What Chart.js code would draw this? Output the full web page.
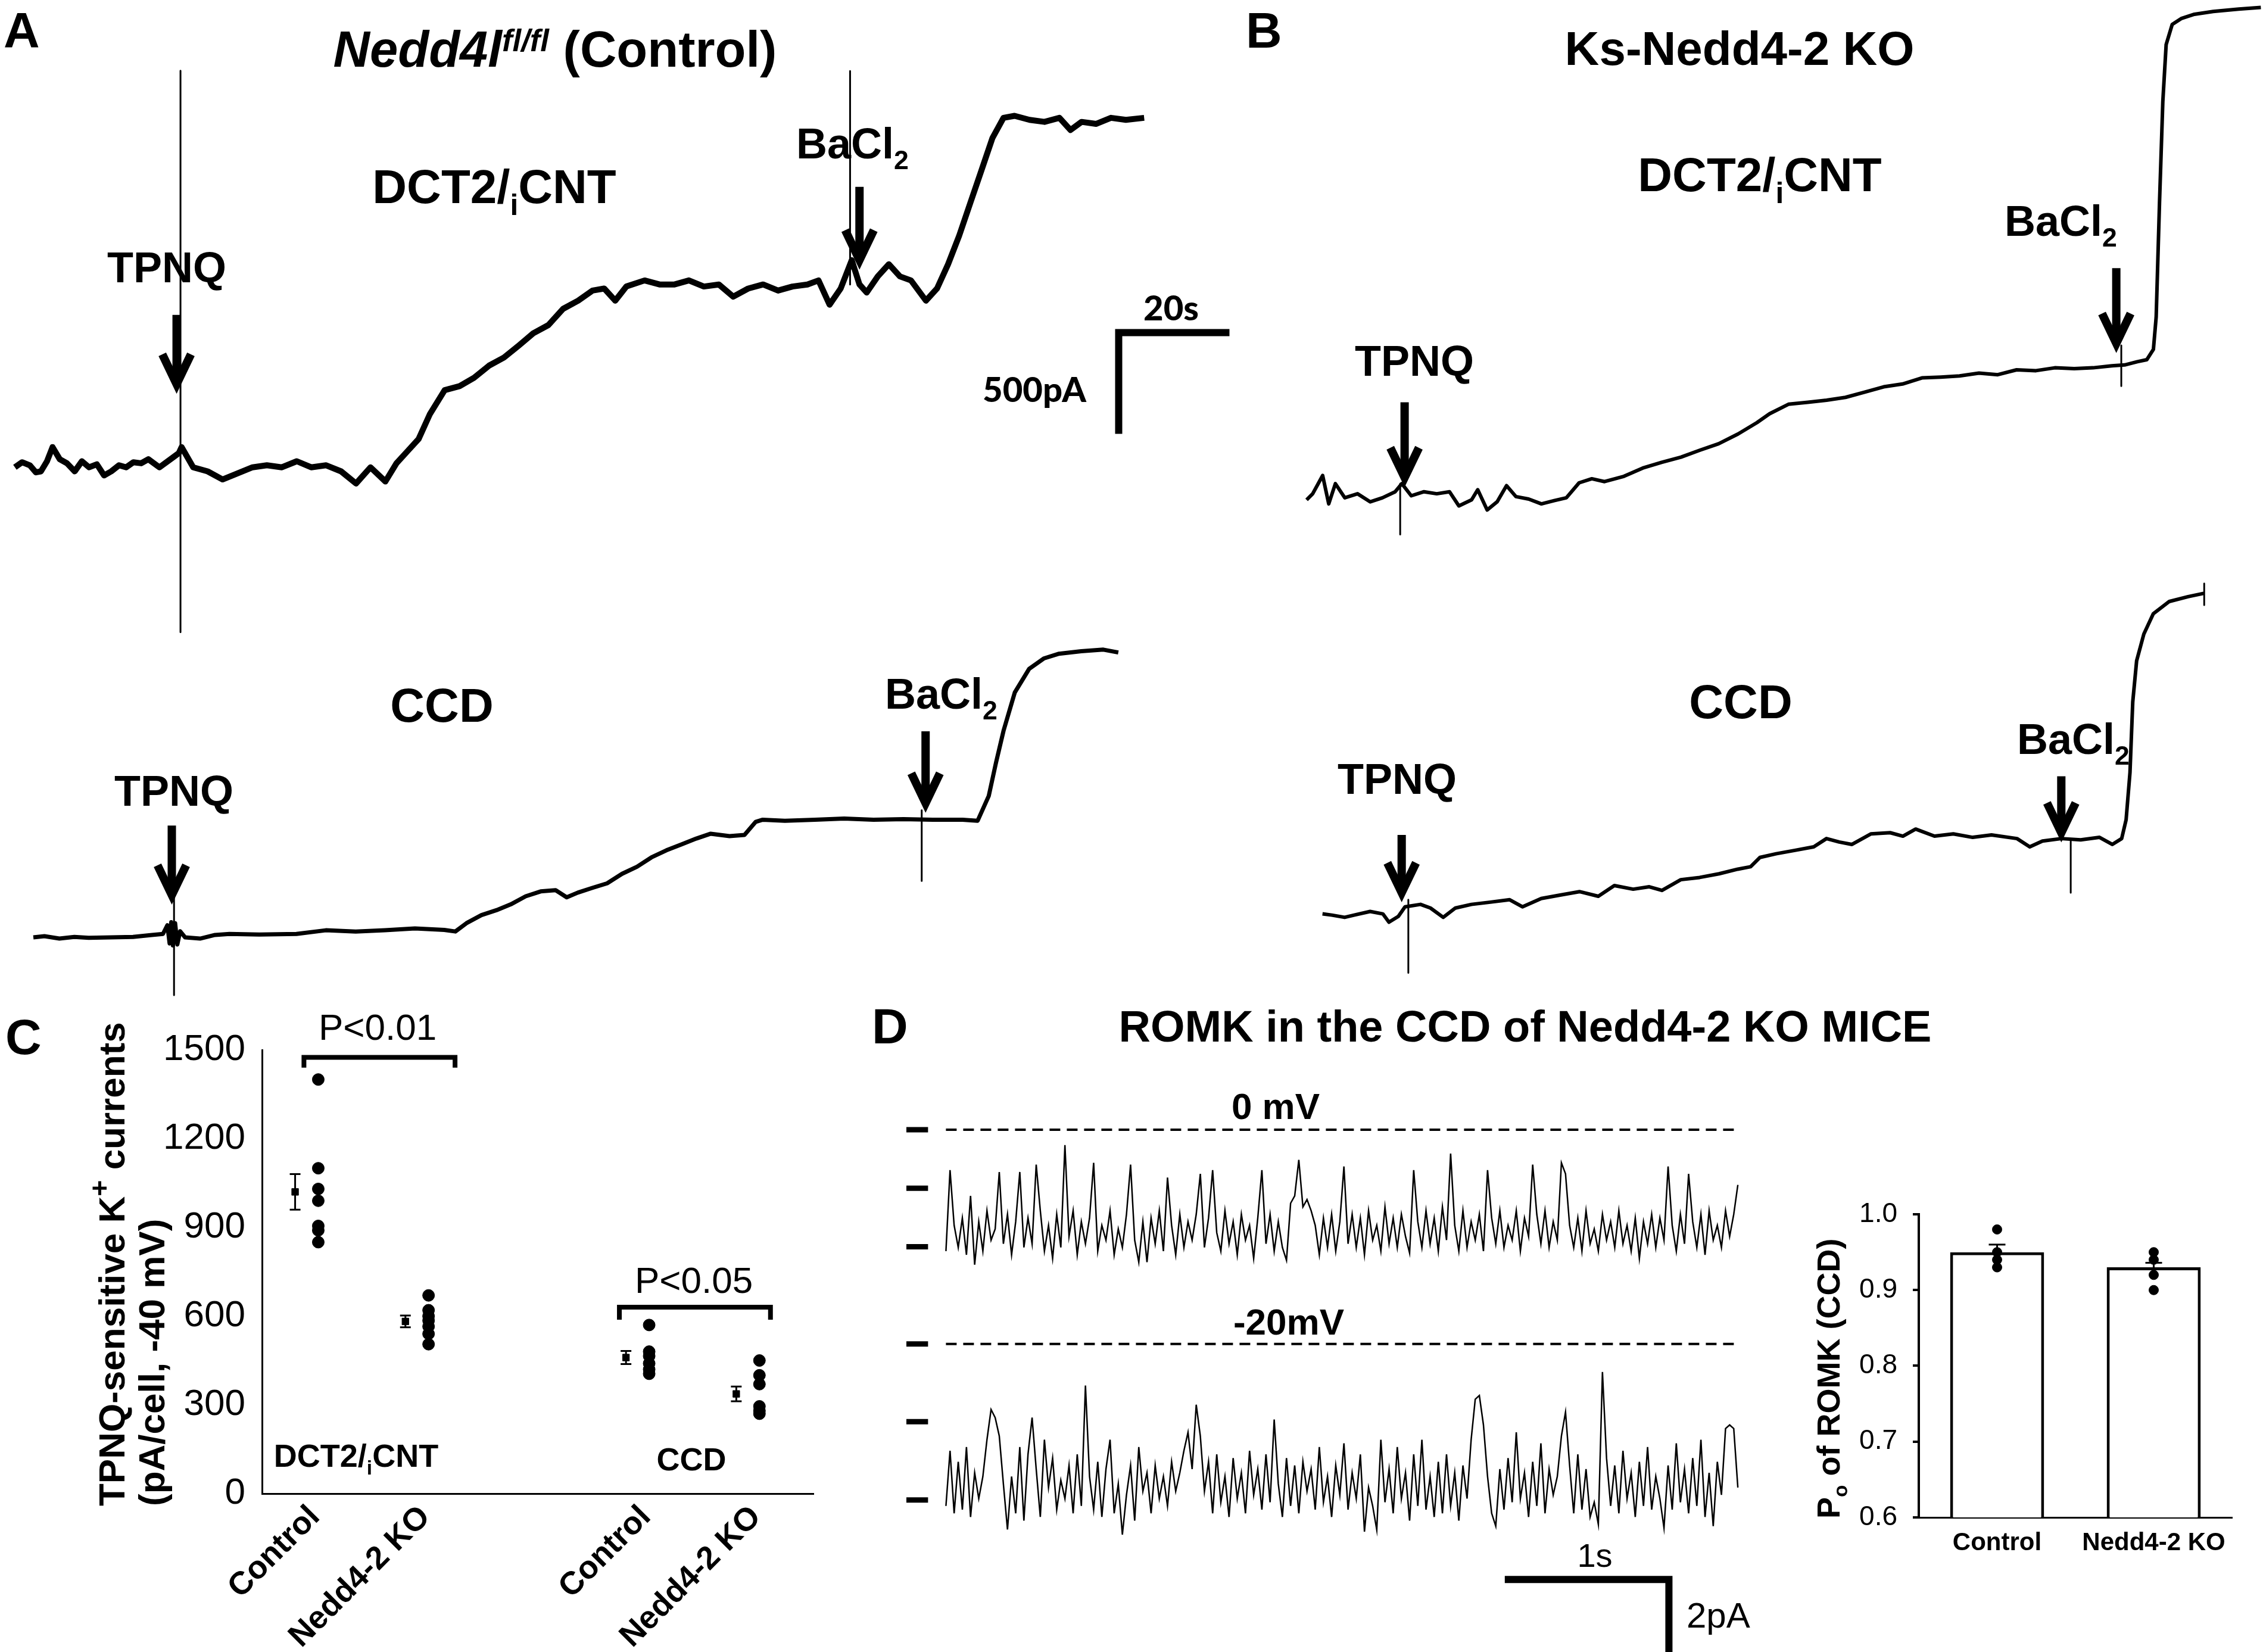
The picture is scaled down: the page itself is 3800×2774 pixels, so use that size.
<!DOCTYPE html>
<html>
<head>
<meta charset="utf-8">
<script src="https://cdn.jsdelivr.net/npm/chart.js@4.4.1/dist/chart.umd.min.js"></script>
<style>
  html, body { margin: 0; padding: 0; background: #fff; }
  #page { position: relative; width: 3800px; height: 2774px; overflow: hidden; background: #fff; color: #000; }
  #page canvas { position: absolute; }
  .lbl { position: absolute; white-space: nowrap; line-height: 1; }
  .lbl sub, .lbl sup, .rot sub, .rot sup { font-size: 0.62em; line-height: 0; }
  .lbl sub, .rot sub { vertical-align: -0.4em; }
  .lbl sup { vertical-align: 0.5em; }
  .rot sup { font-size: 0.75em; vertical-align: 0.55em; }
  .rot { position: absolute; transform-origin: 0 0; transform: rotate(-90deg); white-space: nowrap; font-weight: bold;
         font-family: "Liberation Sans", Arial, sans-serif; }
</style>
</head>
<body>
<div id="page"></div>
<script>
// ---------- data: whole-cell traces, [time s, current pA] ----------
const dctControl = [[0,0],[1.3,25],[2.7,10],[3.8,-25],[4.7,-20],[5.8,30],[6.8,100],[8.1,40],[9.4,20],[10.8,-20],
  [12.1,30],[13.4,0],[14.8,15],[16.1,-40],[17.4,-20],[18.8,10],[20.1,0],[21.4,25],[22.8,20],[24.1,40],
  [26.1,0],[28.1,40],[29.6,70],[30.1,100],[32.2,0],[34.8,-20],[37.5,-60],[40.2,-30],[42.9,0],[45.5,10],
  [48.2,0],[50.9,30],[53.5,0],[56.2,10],[58.9,-20],[61.6,-80],[64.2,0],[66.9,-70],[68.9,20],[70.9,80],
  [72.9,140],[74.9,261],[77.6,381],[80.3,401],[82.9,442],[85.6,502],[88.3,542],[91.0,602],[93.6,662],[96.3,702],
  [99.0,783],[101.7,823],[104.3,873],[106.4,883],[108.4,823],[110.4,893],[113.7,923],[116.4,903],[119.1,903],[121.7,923],
  [124.4,893],[127.1,903],[129.7,843],[132.4,883],[135.1,903],[137.8,873],[140.4,893],[143.1,903],[145.1,923],[147.1,803],
  [149.1,883],[151.1,1023],[152.5,903],[153.8,863],[155.8,943],[157.8,1003],[159.8,943],[161.8,923],[164.5,823],[166.5,883],
  [168.5,1003],[170.5,1144],[172.5,1305],[174.5,1465],[176.5,1626],[178.5,1726],[180.5,1736],[183.2,1716],[185.9,1706],[188.6,1726],
  [190.6,1666],[192.6,1706],[195.2,1696],[197.9,1726],[200.6,1716],[203.9,1726]];

const ccdControl = [[0,0],[2,6],[4.7,-6],[7.4,2],[10,-2],[14,0],[18,2],[21.4,12],[23.4,17],[24.2,60],
  [24.6,-30],[24.9,75],[25.2,-40],[25.6,70],[26,-35],[26.5,30],[27.4,0],[30.1,-6],[32.8,12],[35.4,17],
  [40.8,14],[47.5,17],[52.8,35],[58.2,29],[63.5,35],[68.9,44],[74.2,37],[76.2,29],[78.2,70],[80.9,110],
  [83.6,134],[86.2,163],[88.9,203],[91.6,227],[94.3,233],[96.3,198],[98.3,221],[100.9,244],[103.6,267],[106.3,314],
  [109,349],[111.6,395],[114.3,430],[117,459],[119.7,488],[122.3,512],[125.7,500],[128.4,506],[130.4,570],[131.7,581],
  [135.7,576],[141.1,581],[146.4,587],[151.7,581],[157.1,584],[162.4,581],[167.8,581],[170.5,576],[172.5,698],[173.8,861],
  [175.2,1023],[177.2,1209],[179.8,1326],[182.5,1378],[185.2,1401],[189.2,1413],[193.2,1421],[195.9,1407]];

const dctKO = [[0,-10],[1.1,20],[2.9,110],[4,-30],[5.2,70],[6.9,0],[9.2,20],[11.5,-20],[13.7,0],[16,30],
  [17.2,70],[18.9,10],[21.2,30],[23.5,20],[25.8,30],[27.5,-40],[29.8,-10],[30.9,40],[32.6,-60],[34.4,-20],
  [36.1,60],[37.8,6],[40.1,-6],[42.4,-30],[44.7,-14],[46.9,0],[49.2,74],[51.5,94],[53.8,80],[57.3,106],
  [60.7,147],[64.1,175],[67.6,201],[71,235],[74.4,267],[77.9,315],[81.3,371],[83.6,415],[87,462],[90.5,472],
  [93.9,482],[97.3,496],[100.8,522],[104.2,548],[107.6,562],[111.1,592],[114.5,596],[117.9,602],[121.4,616],[124.8,608],
  [128.2,632],[131.7,628],[135.1,642],[138.6,638],[142,642],[145.4,652],[147.7,656],[150,672],[151.7,682],[152.9,733],
  [153.4,893],[154,1455],[154.6,1957],[155.2,2238],[156.3,2338],[158,2368],[160.3,2388],[163.7,2402],[168.3,2414],[172.3,2422]];

const ccdKO = [[0,0],[1.7,-6],[4,-17],[5.7,-6],[8.6,12],[10.9,0],[12,-41],[13.7,-12],[14.9,35],[17.7,47],
  [19.5,29],[21.8,-17],[24,29],[26.9,47],[30.3,58],[33.8,70],[36.1,35],[39.5,76],[42.9,93],[46.4,110],
  [49.8,87],[52.7,140],[56.1,122],[59,134],[61.3,116],[64.7,169],[68.1,180],[71.6,198],[75,221],[77.3,233],
  [79,279],[81.9,297],[85.3,314],[88.7,331],[91,372],[93.3,355],[95.6,343],[99,395],[102.5,401],[104.8,384],
  [107.1,419],[110.5,384],[113.9,395],[117.4,378],[120.8,390],[125.4,372],[127.7,331],[130,360],[133.4,372],[136.9,366],
  [140.3,378],[142.6,343],[144.3,372],[145.1,465],[145.8,698],[146.3,1047],[147,1250],[148.3,1382],[150,1482],[152.9,1543],
  [156.3,1567],[159.1,1583]];

// artifacts: [time s, top pA, bottom pA]
const dctControlArtifacts = [[29.9, 1959, -814], [150.8, 1957, 903]];
const ccdControlArtifacts = [[25.4, 198, -285], [160.4, 628, 279]];
const dctKOArtifacts = [[16.9, 70, -181], [147.1, 753, 552]];
const ccdKOArtifacts = [[15.5, 70, -291], [135.1, 360, 105], [159.2, 1632, 1525]];

// ---------- data: panel C ----------
const cGroups = ['Control', 'Nedd4-2 KO', 'Control', 'Nedd4-2 KO'];
const cMeans = [1020, 582, 460, 337];
const cSem = [60, 20, 22, 25];
const cDots = [
  [1400, 1100, 1030, 990, 905, 890, 850],
  [670, 620, 600, 585, 565, 540, 505],
  [570, 480, 465, 440, 420, 405],
  [450, 400, 370, 295, 280, 270]
];
const cTicks = [0, 300, 600, 900, 1200, 1500];

// ---------- data: panel D single-channel records (pA, sampled every romkDt s) ----------
const romkDt = 0.025;
const romk0mV = [
  -3.3,-1.1,-2.6,-3.2,-2.4,-3.4,-1.8,-3.67,-2.5,-3.3,
  -2.2,-3.0,-2.7,-1.15,-3.1,-2.3,-3.4,-2.5,-1.15,-3.2,
  -2.4,-3.1,-0.95,-2.2,-3.3,-2.6,-3.5,-2.3,-3.2,-0.42,
  -2.9,-2.2,-3.4,-2.5,-3.1,-2.4,-0.9,-3.3,-2.6,-3.0,
  -2.2,-3.4,-2.7,-3.2,-2.3,-0.95,-3.0,-3.6,-2.5,-3.6,
  -2.4,-3.1,-2.2,-3.3,-1.3,-2.6,-3.4,-2.3,-3.2,-2.5,
  -3.0,-2.3,-1.2,-3.2,-2.4,-1.1,-2.8,-3.3,-2.2,-3.1,
  -2.5,-3.4,-2.3,-3.0,-2.6,-3.5,-2.4,-1.1,-3.1,-2.3,
  -3.3,-2.5,-3.2,-3.55,-2.0,-1.8,-0.82,-2.1,-1.9,-2.2,
  -2.6,-3.4,-2.4,-3.2,-2.3,-3.3,-2.5,-1.0,-3.1,-2.3,
  -3.2,-2.4,-3.4,-2.2,-3.0,-2.6,-3.3,-2.1,-3.1,-2.4,
  -3.2,-2.3,-2.9,-3.35,-1.1,-2.5,-3.2,-2.2,-3.1,-2.4,
  -3.3,-2.1,-3.0,-0.65,-2.6,-3.3,-2.2,-3.2,-2.5,-3.0,
  -2.3,-3.3,-1.1,-2.4,-3.1,-2.2,-3.2,-2.6,-3.0,-2.2,
  -3.3,-2.4,-2.9,-0.95,-2.3,-3.1,-2.2,-3.2,-2.5,-3.0,
  -0.9,-1.2,-2.6,-3.2,-2.4,-3.3,-2.2,-3.1,-2.7,-3.3,
  -2.3,-3.0,-2.5,-3.2,-2.2,-3.1,-2.6,-3.3,-2.4,-3.5,
  -2.5,-3.1,-2.3,-3.2,-2.4,-3.0,-1.0,-2.6,-3.3,-2.3,
  -3.1,-1.2,-2.5,-3.2,-2.3,-3.4,-2.2,-3.0,-2.6,-3.2,
  -2.2,-2.9,-2.3,-1.5
];
const romkMinus20 = [
  -4.4,-2.9,-4.6,-3.2,-4.5,-2.8,-4.7,-3.5,-4.2,-3.6,
  -2.6,-1.78,-2.0,-2.5,-3.8,-5.04,-3.6,-4.6,-2.8,-4.8,
  -3.0,-2.0,-3.4,-4.7,-2.6,-3.9,-3.1,-4.5,-3.7,-4.2,
  -3.3,-4.6,-3.0,-4.4,-1.13,-3.6,-4.5,-3.2,-4.7,-3.4,
  -2.6,-4.6,-3.8,-5.18,-4.1,-3.3,-4.8,-2.8,-4.0,-3.5,
  -4.6,-3.3,-4.2,-3.6,-4.4,-3.2,-4.0,-3.5,-2.9,-2.4,
  -3.4,-1.65,-2.5,-4.0,-3.2,-4.6,-3.0,-4.3,-3.6,-4.7,
  -3.1,-4.2,-3.5,-4.6,-2.9,-4.1,-3.4,-4.5,-3.0,-4.3,
  -2.05,-3.8,-4.7,-3.1,-4.4,-3.3,-4.6,-3.2,-4.0,-3.4,
  -4.5,-2.8,-4.3,-3.6,-4.7,-3.3,-4.1,-2.7,-4.5,-3.5,
  -4.2,-3.0,-5.1,-3.9,-4.4,-5.05,-2.6,-4.3,-3.4,-4.6,
  -2.8,-4.2,-3.5,-4.8,-3.0,-4.4,-2.6,-4.5,-3.6,-4.7,
  -3.2,-4.6,-3.0,-4.4,-3.5,-4.8,-3.3,-4.2,-2.6,-1.5,
  -1.4,-2.2,-3.6,-4.6,-4.95,-3.4,-4.5,-3.1,-4.3,-2.4,
  -4.2,-3.5,-4.7,-3.2,-4.4,-2.7,-4.6,-3.4,-4.1,-3.6,
  -2.5,-1.85,-3.3,-4.6,-3.0,-4.5,-3.4,-4.7,-4.3,-4.9,
  -0.76,-3.1,-4.4,-3.3,-4.6,-2.9,-4.2,-3.5,-4.7,-3.2,
  -4.4,-2.8,-4.5,-3.6,-4.2,-5.0,-3.3,-4.5,-2.7,-4.3,
  -3.4,-4.6,-3.1,-4.4,-2.6,-4.7,-3.5,-4.95,-3.2,-4.1,
  -2.3,-2.2,-2.3,-3.9
];
const romkLevels0mV = [0, -1.59, -3.18];
const romkLevelsMinus20 = [0, -2.11, -4.24];

// ---------- data: Po bars ----------
const poGroups = ['Control', 'Nedd4-2 KO'];
const poMeans = [0.95, 0.93];
const poSem = [0.01, 0.006];
const poDots = [[0.98, 0.95, 0.94, 0.93], [0.95, 0.94, 0.92, 0.90]];

// ---------- setup ----------
const page = document.getElementById('page');
const SANS = '"Liberation Sans", Arial, sans-serif';
Chart.defaults.font.family = SANS;
Chart.defaults.color = '#000';

const measureCtx = document.createElement('canvas').getContext('2d');
function baselineOffset(size, family, weight) {
  measureCtx.font = weight + ' ' + size + 'px ' + family;
  const m = measureCtx.measureText('Hg');
  if (m.fontBoundingBoxAscent === undefined) return 0.8465 * size;
  return (size - (m.fontBoundingBoxAscent + m.fontBoundingBoxDescent)) / 2 + m.fontBoundingBoxAscent;
}

function label(html, x, base, size, o) {
  o = o || {};
  const fam = o.family || SANS;
  const weight = o.weight || 'bold';
  const d = document.createElement('div');
  d.className = 'lbl';
  d.innerHTML = html;
  d.style.fontFamily = fam;
  d.style.fontWeight = weight;
  d.style.fontSize = size + 'px';
  d.style.top = (base - baselineOffset(size, fam, weight)) + 'px';
  d.style.left = x + 'px';
  if (o.align === 'center') d.style.transform = 'translateX(-50%)';
  page.appendChild(d);
}

function rotLabel(html, left, startY, size, lineH) {
  const d = document.createElement('div');
  d.className = 'rot';
  d.innerHTML = html;
  d.style.fontSize = size + 'px';
  d.style.lineHeight = lineH + 'px';
  d.style.left = left + 'px';
  d.style.top = startY + 'px';
  page.appendChild(d);
}

function addCanvas(b) {
  const cv = document.createElement('canvas');
  cv.width = b.w; cv.height = b.h;
  cv.style.left = b.x + 'px'; cv.style.top = b.y + 'px';
  cv.style.width = b.w + 'px'; cv.style.height = b.h + 'px';
  page.appendChild(cv);
  return cv;
}

// thick down arrows, positioned in data units
const arrowPlugin = {
  id: 'arrows',
  afterDatasetsDraw(chart, args, opts) {
    if (!opts.items) return;
    const {ctx, scales: {x, y}} = chart;
    ctx.save();
    ctx.strokeStyle = '#000';
    ctx.lineWidth = 14;
    ctx.lineJoin = 'miter';
    opts.items.forEach(a => {
      const px = x.getPixelForValue(a.x);
      const top = y.getPixelForValue(a.from);
      const tip = y.getPixelForValue(a.to);
      ctx.beginPath(); ctx.moveTo(px, top); ctx.lineTo(px, tip - 8); ctx.stroke();
      ctx.beginPath(); ctx.moveTo(px - 24, tip - 50); ctx.lineTo(px, tip); ctx.lineTo(px + 24, tip - 50); ctx.stroke();
    });
    ctx.restore();
  }
};

const errorBarPlugin = {
  id: 'errorBars',
  afterDatasetsDraw(chart, args, opts) {
    if (!opts.items) return;
    const {ctx, scales: {x, y}} = chart;
    ctx.save();
    ctx.strokeStyle = '#000';
    ctx.lineWidth = opts.lineWidth || 3;
    opts.items.forEach(e => {
      const px = x.getPixelForValue(e.x);
      const hi = y.getPixelForValue(e.mean + e.sem);
      const lo = y.getPixelForValue(e.upOnly ? e.mean : e.mean - e.sem);
      ctx.beginPath(); ctx.moveTo(px, lo); ctx.lineTo(px, hi); ctx.stroke();
      ctx.beginPath(); ctx.moveTo(px - opts.cap, hi); ctx.lineTo(px + opts.cap, hi);
      if (!e.upOnly) { ctx.moveTo(px - opts.cap, lo); ctx.lineTo(px + opts.cap, lo); }
      ctx.stroke();
    });
    ctx.restore();
  }
};

function lineSet(points, width, extra) {
  return Object.assign({
    data: points, borderColor: '#000', backgroundColor: '#000', borderWidth: width,
    pointRadius: 0, tension: 0, clip: false, borderJoinStyle: 'round', borderCapStyle: 'butt'
  }, extra || {});
}
const toXY = pairs => pairs.map(p => ({x: p[0], y: p[1]}));
const artifactSets = list => list.map(a => lineSet([{x: a[0], y: a[1]}, {x: a[0], y: a[2]}], 3));

// chart whose data origin (0,0) sits at frame.x0/y0 page pixels, with fixed px per unit
function frameChart(box, frame, datasets, arrows) {
  const cv = addCanvas(box);
  const xmin = -(frame.x0 - box.x) / frame.sx;
  const ymax = (frame.y0 - box.y) / frame.sy;
  return new Chart(cv, {
    type: 'line',
    data: { datasets },
    options: {
      responsive: false, animation: false, devicePixelRatio: 1,
      layout: { padding: 0 },
      plugins: { legend: { display: false }, tooltip: { enabled: false }, arrows: { items: arrows || [] } },
      scales: {
        x: { type: 'linear', display: false, min: xmin, max: xmin + box.w / frame.sx },
        y: { type: 'linear', display: false, min: ymax - box.h / frame.sy, max: ymax }
      }
    },
    plugins: [arrowPlugin]
  });
}

// ---------- panels A and B ----------
const PX_PER_S = 9.30, PX_PER_PA = 0.34;
const wholeCellBar = { s: 20, pA: 500, x: 199.3, y: 665 };

frameChart({x: 0, y: 90, w: 2100, h: 1000}, {x0: 25, y0: 784.7, sx: PX_PER_S, sy: PX_PER_PA}, [
  lineSet(toXY(dctControl), 10),
  ...artifactSets(dctControlArtifacts),
  lineSet([{x: wholeCellBar.x + wholeCellBar.s, y: wholeCellBar.y}, {x: wholeCellBar.x, y: wholeCellBar.y},
           {x: wholeCellBar.x, y: wholeCellBar.y - wholeCellBar.pA}], 12, {borderJoinStyle: 'miter'})
], [{x: 29.2, from: 753, to: 411}, {x: 152.5, from: 1385, to: 1024}]);

frameChart({x: 0, y: 1075, w: 1950, h: 620}, {x0: 56, y0: 1574, sx: PX_PER_S, sy: PX_PER_PA}, [
  lineSet(toXY(ccdControl), 7),
  ...artifactSets(ccdControlArtifacts)
], [{x: 25.0, from: 552, to: 209}, {x: 161.1, from: 1018, to: 663}]);

frameChart({x: 2130, y: 0, w: 1670, h: 1000}, {x0: 2194, y0: 835.9, sx: PX_PER_S, sy: PX_PER_PA}, [
  lineSet(toXY(dctKO), 6),
  ...artifactSets(dctKOArtifacts)
], [{x: 17.7, from: 472, to: 100}, {x: 146.2, from: 1134, to: 763}]);

frameChart({x: 2130, y: 960, w: 1670, h: 720}, {x0: 2220.7, y0: 1534.6, sx: PX_PER_S, sy: PX_PER_PA}, [
  lineSet(toXY(ccdKO), 6),
  ...artifactSets(ccdKOArtifacts)
], [{x: 14.3, from: 390, to: 105}, {x: 133.4, from: 680, to: 401}]);

label('A', 6, 80, 84);
label('B', 2092, 80, 84);
label('<i>Nedd4l</i><sup><i>fl/fl</i></sup> (Control)', 932, 112, 85, {align: 'center'});
label('DCT2/<sub>i</sub>CNT', 830, 341, 80, {align: 'center'});
label('CCD', 742, 1212, 80, {align: 'center'});
label('Ks-Nedd4-2 KO', 2921, 109, 80, {align: 'center'});
label('DCT2/<sub>i</sub>CNT', 2955, 321, 80, {align: 'center'});
label('CCD', 2923, 1206, 80, {align: 'center'});
label('TPNQ', 280, 474, 72, {align: 'center'});
label('BaCl<sub>2</sub>', 1337, 266, 72);
label('TPNQ', 292, 1353, 72, {align: 'center'});
label('BaCl<sub>2</sub>', 1486, 1190, 72);
label('TPNQ', 2375, 631, 72, {align: 'center'});
label('BaCl<sub>2</sub>', 3366, 396, 72);
label('TPNQ', 2346, 1333, 72, {align: 'center'});
label('BaCl<sub>2</sub>', 3387, 1266, 72);
label('20s', 1920, 538, 58, {family: 'Lato, "Open Sans", sans-serif', weight: '900'});
label('500pA', 1650, 675, 58, {family: 'Lato, "Open Sans", sans-serif', weight: '900'});

// ---------- panel C ----------
const cPos = [0.4, 1.4, 3.4, 4.4];
const cBrackets = [
  {x1: 0.38, x2: 1.75, y: 1475, leg: 1440},
  {x1: 3.24, x2: 4.61, y: 630, leg: 588}
];
new Chart(addCanvas({x: 0, y: 1690, w: 1420, h: 1084}), {
  type: 'scatter',
  data: {
    datasets: [
      { data: cMeans.map((m, i) => ({x: cPos[i] - 0.1, y: m})), pointStyle: 'rect', pointRadius: 8,
        backgroundColor: '#000', borderColor: '#000' },
      { data: cDots.flatMap((g, i) => g.map(v => ({x: cPos[i] + 0.11, y: v}))), pointRadius: 10,
        backgroundColor: '#000', borderColor: '#000' },
      ...cBrackets.map(b => lineSet([{x: b.x1, y: b.leg}, {x: b.x1, y: b.y}, {x: b.x2, y: b.y}, {x: b.x2, y: b.leg}],
        8, {showLine: true, borderJoinStyle: 'miter'}))
    ]
  },
  options: {
    responsive: false, animation: false, devicePixelRatio: 1,
    layout: { padding: { left: 0, top: 73, right: 54, bottom: 0 } },
    plugins: {
      legend: { display: false }, tooltip: { enabled: false },
      errorBars: { cap: 9, lineWidth: 3, items: cMeans.map((m, i) => ({x: cPos[i] - 0.1, mean: m, sem: cSem[i]})) }
    },
    scales: {
      x: {
        type: 'linear', min: 0, max: 5,
        grid: { display: false, drawTicks: false },
        border: { display: true, color: '#000', width: 3 },
        afterBuildTicks: s => { s.ticks = cPos.map(p => ({value: p + 0.08})); },
        ticks: { callback: (v, i) => cGroups[i], minRotation: 45, maxRotation: 45, autoSkip: false,
                 font: { size: 54, weight: 'bold' }, padding: 8 },
        afterFit: s => { s.height = 266; s.paddingLeft = 0; s.paddingRight = 0; }
      },
      y: {
        min: 0, max: 1500,
        afterBuildTicks: s => { s.ticks = cTicks.map(v => ({value: v})); },
        grid: { display: false, drawTicks: false },
        border: { display: true, color: '#000', width: 3 },
        ticks: { font: { size: 62 }, padding: 28, callback: v => String(v) },
        afterFit: s => { s.width = 440; s.paddingTop = 0; s.paddingBottom = 0; }
      }
    }
  },
  plugins: [errorBarPlugin]
});

label('C', 9, 1770, 84);
label('P&lt;0.01', 634, 1746, 62, {align: 'center', weight: 'normal'});
label('P&lt;0.05', 1165, 2171, 62, {align: 'center', weight: 'normal'});
label('DCT2/<sub>i</sub>CNT', 598, 2463, 54, {align: 'center'});
label('CCD', 1161, 2469, 54, {align: 'center'});
rotLabel('TPNQ-sensitive K<sup>+</sup> currents<br>(pA/cell, -40 mV)', 154, 2529, 62, 67);

// ---------- panel D: single-channel records ----------
const ROMK_PX_PER_S = 275.6, ROMK_PX_PER_PA = 61.8;
const romkEnd = (romk0mV.length - 1) * romkDt;
const levelMark = { from: -0.241, to: -0.109 };
const romkBar = { s: 1, pA: 2, x: 3.405, y: -6.4 };

function romkSets(values, levels) {
  return [
    lineSet(values.map((v, i) => ({x: i * romkDt, y: v})), 2.5, {borderJoinStyle: 'miter'}),
    lineSet([{x: 0, y: 0}, {x: romkEnd, y: 0}], 4, {borderDash: [18, 11]}),
    ...levels.map(l => lineSet([{x: levelMark.from, y: l}, {x: levelMark.to, y: l}], 9))
  ];
}

frameChart({x: 1454, y: 1842, w: 1551, h: 339}, {x0: 1588.4, y0: 1896.9, sx: ROMK_PX_PER_S, sy: ROMK_PX_PER_PA},
  romkSets(romk0mV, romkLevels0mV));
frameChart({x: 1454, y: 2193, w: 1551, h: 600}, {x0: 1588.4, y0: 2256.8, sx: ROMK_PX_PER_S, sy: ROMK_PX_PER_PA}, [
  ...romkSets(romkMinus20, romkLevelsMinus20),
  lineSet([{x: romkBar.x, y: romkBar.y}, {x: romkBar.x + romkBar.s, y: romkBar.y},
           {x: romkBar.x + romkBar.s, y: romkBar.y - romkBar.pA}], 12, {borderJoinStyle: 'miter'})
]);

label('D', 1464, 1752, 84);
label('ROMK in the CCD of Nedd4-2 KO MICE', 2561, 1749, 74, {align: 'center'});
label('0 mV', 2142, 1879, 62, {align: 'center'});
label('-20mV', 2164, 2241, 62, {align: 'center'});
label('1s', 2678, 2631, 56, {align: 'center', weight: 'normal'});
label('2pA', 2832, 2733, 60, {weight: 'normal'});

// ---------- panel D: Po bars ----------
new Chart(addCanvas({x: 3000, y: 1950, w: 800, h: 700}), {
  type: 'bar',
  data: {
    labels: poGroups,
    datasets: [
      { data: poMeans, backgroundColor: '#fff', borderColor: '#000', borderWidth: 5, borderSkipped: 'bottom',
        barPercentage: 0.6, categoryPercentage: 1, order: 2 },
      { type: 'line', showLine: false, data: poDots.flatMap((g, i) => g.map(v => ({x: poGroups[i], y: v}))),
        pointRadius: 8, backgroundColor: '#000', borderColor: '#000', order: 1 }
    ]
  },
  options: {
    responsive: false, animation: false, devicePixelRatio: 1,
    layout: { padding: { left: 0, top: 89, right: 52, bottom: 0 } },
    plugins: {
      legend: { display: false }, tooltip: { enabled: false },
      errorBars: { cap: 14, lineWidth: 3, items: poMeans.map((m, i) => ({x: i, mean: m, sem: poSem[i], upOnly: true})) }
    },
    scales: {
      x: {
        grid: { display: false, drawTicks: false },
        border: { display: true, color: '#000', width: 3 },
        ticks: { font: { size: 42, weight: 'bold' }, padding: 18 },
        afterFit: s => { s.height = 102; s.paddingLeft = 0; s.paddingRight = 0; }
      },
      y: {
        min: 0.6, max: 1.0,
        ticks: { stepSize: 0.1, font: { size: 46 }, padding: 26, callback: v => v.toFixed(1) },
        grid: { display: true, drawOnChartArea: false, drawTicks: true, tickLength: 10, color: '#000', lineWidth: 4 },
        border: { display: true, color: '#000', width: 4 },
        afterFit: s => { s.width = 222; s.paddingTop = 0; s.paddingBottom = 0; }
      }
    }
  },
  plugins: [errorBarPlugin]
});

rotLabel('P<sub>o</sub> of ROMK (CCD)', 3043, 2550, 54, 54);
</script>
</body>
</html>
